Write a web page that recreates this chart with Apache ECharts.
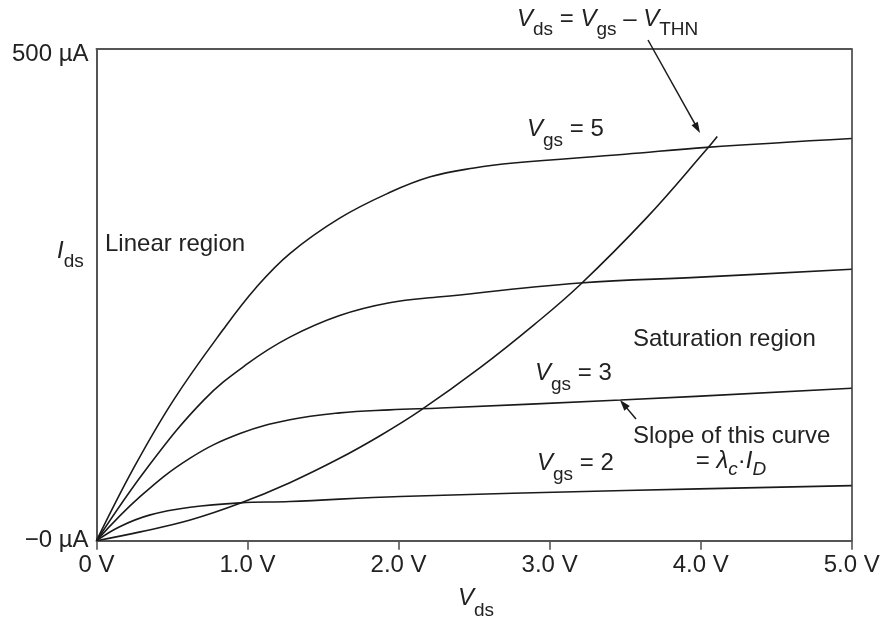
<!DOCTYPE html>
<html>
<head>
<meta charset="utf-8">
<script src="https://cdn.jsdelivr.net/npm/echarts@6/dist/echarts.min.js"></script>
<style>html,body{margin:0;padding:0;background:#fff}#c{width:888px;height:619px}</style>
</head>
<body>
<div id="c"></div>
<script>
// ---- data ----
const xTickLabels = ['0 V', '1.0 V', '2.0 V', '3.0 V', '4.0 V', '5.0 V'];
const yTickLabels = ['\u22120 \u00b5A', '500 \u00b5A'];
// [Vds (V), Ids (uA)]
const vgs5 = [[0,0],[0.25,75],[0.51,143],[0.84,215],[1.06,258],[1.28,292],[1.61,328],[1.94,354],[2.21,370],[2.5,379],[2.76,384],[3.5,393],[4.04,400],[5.0,409]];
const vgs4 = [[0,0],[0.34,75],[0.71,143],[1.0,180],[1.28,207],[1.61,229],[1.94,242],[2.28,248],[3.2,262],[4.0,268],[5.0,276]];
const vgs3 = [[0,0],[0.29,45],[0.62,84],[0.95,109],[1.28,123],[1.61,130],[1.94,133],[2.28,135],[3.47,143],[5.0,155]];
const vgs2 = [[0,0],[0.15,14],[0.35,26],[0.62,34],[0.95,38.5],[1.28,39.8],[2.01,45],[3.5,51],[5.0,56]];
const satLocus = [[0,0],[0.29,9],[0.62,21],[0.95,38],[1.28,59],[1.6,83],[1.88,107],[2.14,132],[2.54,176],[2.9,220],[3.2,260],[3.64,328],[4.04,398],[4.11,411]];

const FONT = '"Liberation Sans", Arial, Helvetica, sans-serif';
const TXT = '#222';
const LINE = '#1a1a1a';
const AX = '#555';
const FS = 24, FSUB = 19;

const chart = echarts.init(document.getElementById('c'), null, {renderer: 'canvas'});

function curve(name, data) {
  return {
    name: name, type: 'line', data: data, showSymbol: false, symbol: 'none',
    smooth: 0.4, silent: true,
    lineStyle: {color: LINE, width: 1.6}
  };
}

const ctx = document.createElement('canvas').getContext('2d');
function fontStr(size, italic) { return (italic ? 'italic ' : '') + size + 'px ' + FONT; }
function measure(t, f) { ctx.font = f; return ctx.measureText(t).width; }

// pieces: [text, kind] kind: n normal, i italic, s sub, si sub italic
function richText(x, base, pieces, anchor, subOff) {
  subOff = subOff == null ? 9 : subOff;
  const info = pieces.map(p => {
    const sub = p[1].indexOf('s') >= 0;
    const it = p[1].indexOf('i') >= 0;
    const size = sub ? FSUB : FS;
    const f = fontStr(size, it);
    return {t: p[0], f: f, size: size, sub: sub, w: measure(p[0], f)};
  });
  const total = info.reduce((a, b) => a + b.w, 0);
  let cx = anchor === 'center' ? x - total / 2 : x;
  const els = [];
  info.forEach(p => {
    const by = base + (p.sub ? subOff : 0);
    els.push({
      type: 'text', silent: true, z: 100,
      style: {text: p.t, x: cx, y: by - 0.35 * p.size, font: p.f, fill: TXT,
              align: 'left', verticalAlign: 'middle', textAlign: 'left', textVerticalAlign: 'middle'}
    });
    cx += p.w;
  });
  return els;
}

function arrow(x1, y1, x2, y2) {
  const dx = x2 - x1, dy = y2 - y1, L = Math.sqrt(dx * dx + dy * dy);
  const ux = dx / L, uy = dy / L, hl = 11, hw = 3.6;
  const bx = x2 - ux * hl, by = y2 - uy * hl;
  return [
    {type: 'line', silent: true, z: 100, shape: {x1: x1, y1: y1, x2: bx + ux * 2, y2: by + uy * 2},
     style: {stroke: LINE, lineWidth: 1.5}},
    {type: 'polygon', silent: true, z: 100,
     shape: {points: [[x2, y2], [bx - uy * hw, by + ux * hw], [bx + uy * hw, by - ux * hw]]},
     style: {fill: LINE}}
  ];
}

let graphics = [];
graphics = graphics.concat(
  richText(517, 28, [['V','i'],['ds','s'],[' = ','n'],['V','i'],['gs','s'],[' \u2013 ','n'],['V','i'],['THN','s']], 'left', 8.5),
  arrow(648, 40, 700, 133),
  richText(527, 138, [['V','i'],['gs','s'],[' = 5','n']], 'left'),
  richText(105, 253, [['Linear region','n']], 'left'),
  richText(633, 348, [['Saturation region','n']], 'left'),
  richText(535, 382, [['V','i'],['gs','s'],[' = 3','n']], 'left'),
  arrow(636, 419, 620, 400),
  richText(633, 445, [['Slope of this curve','n']], 'left'),
  richText(731, 470, [['= ','n'],['\u03bb','i'],['c','si'],['\u00b7','n'],['I','i'],['D','si']], 'center', 6),
  richText(537, 472, [['V','i'],['gs','s'],[' = 2','n']], 'left'),
  richText(57, 260, [['I','i'],['ds','s']], 'left', 8),
  richText(458, 607, [['V','i'],['ds','s']], 'left', 10)
);

const option = {
  animation: false,
  backgroundColor: '#fff',
  grid: {left: 96.5, right: 36.3, top: 49, bottom: 78.3, containLabel: false, outerBoundsMode: 'none'},
  xAxis: [{
    type: 'value', min: 0, max: 5, interval: 1,
    axisLine: {show: true, onZero: false, lineStyle: {color: AX, width: 2}},
    axisTick: {show: true, length: 9, lineStyle: {color: AX, width: 1.6}},
    axisLabel: {formatter: v => xTickLabels[Math.round(v)], fontSize: FS, fontFamily: FONT, color: TXT, margin: 13},
    splitLine: {show: false}
  }, {
    type: 'value', position: 'top', min: 0, max: 5, interval: 1,
    axisLine: {show: true, onZero: false, lineStyle: {color: AX, width: 2}},
    axisTick: {show: false}, axisLabel: {show: false}, splitLine: {show: false}
  }],
  yAxis: [{
    type: 'value', min: 0, max: 500, interval: 500,
    axisLine: {show: true, onZero: false, lineStyle: {color: AX, width: 2}},
    axisTick: {show: false},
    axisLabel: {
      formatter: v => v >= 500 ? '{t|' + yTickLabels[1] + '}' : yTickLabels[0],
      fontSize: FS, fontFamily: FONT, color: TXT, margin: 8,
      rich: {t: {fontSize: FS, fontFamily: FONT, color: TXT, padding: [10, 0, 0, 0]}}
    },
    splitLine: {show: false}
  }, {
    type: 'value', position: 'right', min: 0, max: 500, interval: 500,
    axisLine: {show: true, onZero: false, lineStyle: {color: '#333', width: 1.5}},
    axisTick: {show: false}, axisLabel: {show: false}, splitLine: {show: false}
  }],
  series: [
    curve('Vgs=5', vgs5),
    curve('Vgs=4', vgs4),
    curve('Vgs=3', vgs3),
    curve('Vgs=2', vgs2),
    curve('Vds=Vgs-VTHN', satLocus)
  ],
  graphic: graphics
};
chart.setOption(option);
</script>
</body>
</html>
